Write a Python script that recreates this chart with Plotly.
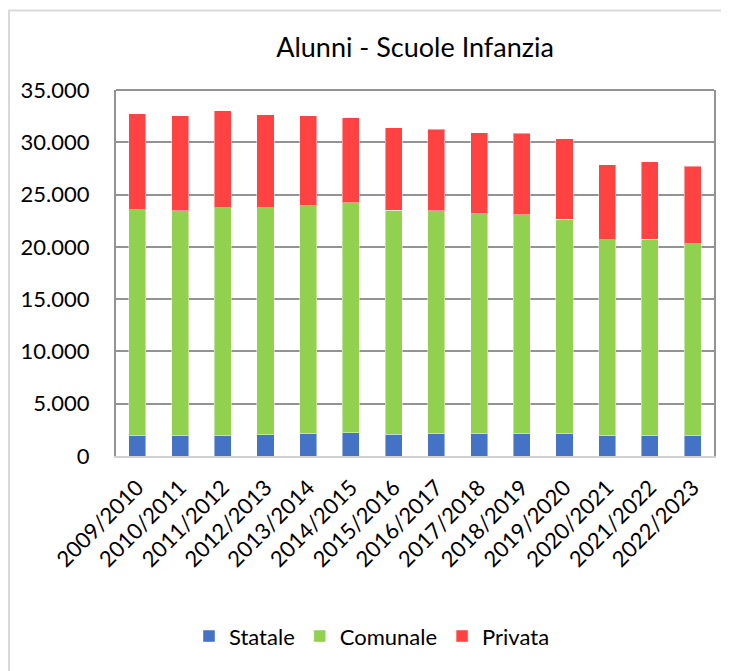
import plotly.graph_objects as go

anni = ["2009/2010", "2010/2011", "2011/2012", "2012/2013", "2013/2014", "2014/2015",
        "2015/2016", "2016/2017", "2017/2018", "2018/2019", "2019/2020", "2020/2021",
        "2021/2022", "2022/2023"]
statale = [1990, 1990, 1930, 2020, 2180, 2210, 2090, 2120, 2180, 2180, 2120, 1930, 1990, 1990]
comunale = [21580, 21460, 21800, 21740, 21750, 22000, 21420, 21330, 20980, 20890, 20530, 18750, 18750, 18330]
privata = [9170, 9100, 9270, 8890, 8590, 8150, 7890, 7800, 7740, 7800, 7670, 7190, 7390, 7400]

colori = {"Statale": "#4472C4", "Comunale": "#92D050", "Privata": "#FF4343"}

# page offset of the figure (body margin)
OFF = 8
W, H = 729 - OFF, 671 - OFF
L, T = 116 - OFF, 90 - OFF
R = W - (714 - OFF)
B = H - (456.5 - OFF)
pw, ph = W - L - R, H - T - B

fig = go.Figure()
for nome, vals in [("Statale", statale), ("Comunale", comunale), ("Privata", privata)]:
    fig.add_trace(go.Bar(
        x=anni, y=vals, name=nome,
        marker=dict(color=colori[nome], line=dict(color="rgba(255,255,255,0.45)", width=1)),
    ))

font = "Lato, 'Open Sans', sans-serif"

def px_x(p):
    return (p - OFF - L) / pw

def px_y(p):
    return (H - B - (p - OFF)) / ph

fig.update_layout(
    width=W, height=H,
    barmode="stack", bargap=0.6,
    separators=",.",
    paper_bgcolor="white", plot_bgcolor="white",
    margin=dict(l=L, r=R, t=T, b=B, autoexpand=False),
    font=dict(family=font, size=22, color="#000000"),
    title=dict(text="Alunni - Scuole Infanzia", x=0.5, xref="paper", xanchor="center",
               y=1 - (48 - OFF) / H, yref="container", yanchor="middle",
               font=dict(family=font, size=27, color="#000000")),
    legend=dict(orientation="h", x=0.5 - 43 / pw, xanchor="center", xref="paper",
                y=px_y(637), yanchor="middle", font=dict(family=font, size=22),
                itemwidth=30, traceorder="normal"),
    xaxis=dict(showline=True, linecolor="#d0d0d0", linewidth=2, mirror=False,
               tickangle=-45, showgrid=False, ticks="", ticklabelstandoff=8,
               tickfont=dict(family=font, size=22)),
    yaxis=dict(range=[0, 35000], dtick=5000, tickformat=",d", showgrid=True,
               gridcolor="#939393", gridwidth=2, zeroline=False,
               showline=True, linecolor="#939393", linewidth=2, mirror=True,
               ticks="", ticklabelstandoff=20, tickfont=dict(family=font, size=22)),
    shapes=[
        dict(type="line", xref="paper", yref="paper", x0=0, x1=1, y0=1, y1=1,
             line=dict(color="#939393", width=2)),
        dict(type="rect", xref="paper", yref="paper",
             x0=px_x(OFF + 1), x1=px_x(760), y0=px_y(10.5), y1=px_y(700),
             line=dict(color="#d9d9d9", width=2), fillcolor="rgba(0,0,0,0)", layer="below"),
    ],
)

fig.write_html("out.html")
